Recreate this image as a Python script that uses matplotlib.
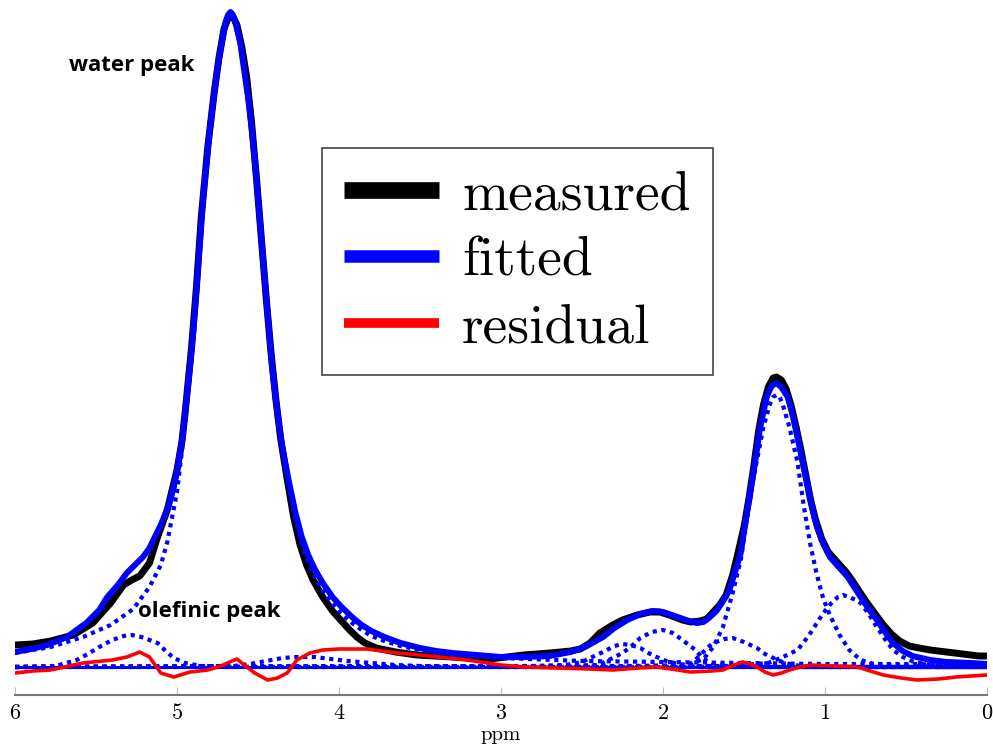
import matplotlib
matplotlib.use("Agg")
import matplotlib.pyplot as plt
from matplotlib.lines import Line2D

# chemical shift (ppm) / intensity (a.u.)
meas_ppm = [6.00, 5.89, 5.78, 5.64, 5.52, 5.41, 5.33, 5.28, 5.23, 5.17, 5.12, 5.06, 5.00, 4.97,
            4.95, 4.91, 4.88, 4.85, 4.81, 4.77, 4.74, 4.71, 4.68, 4.665, 4.65, 4.63, 4.60, 4.57,
            4.54, 4.51, 4.48, 4.45, 4.42, 4.39, 4.36, 4.32, 4.28, 4.24, 4.20, 4.16, 4.10, 4.04,
            3.99, 3.94, 3.89, 3.84, 3.77, 3.65, 3.52, 3.30, 3.07, 2.86, 2.70, 2.57, 2.51, 2.45,
            2.39, 2.31, 2.25, 2.16, 2.08, 2.02, 1.96, 1.88, 1.83, 1.77, 1.73, 1.69, 1.65, 1.61,
            1.57, 1.54, 1.50, 1.47, 1.44, 1.41, 1.38, 1.35, 1.32, 1.30, 1.27, 1.24, 1.21, 1.18,
            1.15, 1.12, 1.09, 1.06, 1.02, 0.98, 0.92, 0.87, 0.83, 0.79, 0.74, 0.69, 0.64, 0.59,
            0.54, 0.48, 0.42, 0.35, 0.25, 0.15, 0.05, 0.00]
meas_val = [22, 23, 26, 32, 44, 64, 82, 87, 91, 104, 130, 157, 197, 225,
            254, 320, 380, 450, 520, 575, 610, 638, 651, 653, 649, 642, 620, 590,
            545, 490, 430, 370, 315, 268, 228, 188, 150, 122, 102, 87, 70, 56,
            47, 38, 30, 24, 19, 15, 12, 10, 8, 12, 14, 16, 18, 24,
            34, 42, 47, 52, 55, 55, 52, 47, 45, 46, 48, 55, 62, 72,
            92, 112, 140, 168, 200, 236, 262, 280, 289, 290, 287, 278, 262, 241,
            218, 193, 168, 148, 128, 115, 104, 95, 86, 76, 64, 53, 42, 33,
            26, 21, 19, 17, 15, 13, 11, 11]

fit_ppm = [6.00, 5.90, 5.80, 5.68, 5.56, 5.48, 5.43, 5.36, 5.31, 5.26, 5.21, 5.17, 5.14, 5.10,
           5.06, 5.02, 5.00, 4.97, 4.95, 4.92, 4.90, 4.87, 4.84, 4.80, 4.77, 4.75, 4.72, 4.70,
           4.685, 4.67, 4.655, 4.64, 4.61, 4.59, 4.56, 4.53, 4.50, 4.47, 4.44, 4.41, 4.38, 4.35,
           4.31, 4.27, 4.23, 4.19, 4.15, 4.10, 4.04, 3.99, 3.92, 3.86, 3.80, 3.72, 3.62, 3.50,
           3.40, 3.30, 3.15, 3.00, 2.86, 2.70, 2.57, 2.47, 2.37, 2.30, 2.22, 2.14, 2.06, 2.00,
           1.91, 1.84, 1.79, 1.75, 1.71, 1.67, 1.63, 1.59, 1.55, 1.52, 1.48, 1.44, 1.40, 1.36,
           1.33, 1.30, 1.27, 1.23, 1.20, 1.17, 1.14, 1.11, 1.08, 1.05, 1.01, 0.97, 0.91, 0.86,
           0.82, 0.78, 0.73, 0.68, 0.63, 0.58, 0.52, 0.46, 0.35, 0.25, 0.10, 0.00]
fit_val = [15, 18, 22, 30, 44, 57, 70, 83, 94, 102, 110, 119, 129, 142,
           158, 180, 197, 225, 254, 300, 334, 400, 467, 534, 575, 600, 628, 645,
           652, 655, 652, 645, 625, 602, 568, 525, 470, 410, 352, 295, 254, 220,
           186, 155, 130, 112, 98, 84, 70, 61, 50, 42, 36, 30, 24, 19,
           16, 14, 12, 10, 10, 11, 15, 21, 30, 39, 47, 53, 56, 55,
           50, 46, 44, 45, 50, 56, 66, 77, 98, 114, 157, 197, 240, 270,
           281, 284, 280, 270, 252, 230, 207, 184, 160, 140, 123, 110, 99, 90,
           80, 70, 58, 47, 35, 24, 16, 11, 7, 5, 4, 3]

res_ppm = [6.00, 5.89, 5.78, 5.58, 5.40, 5.31, 5.23, 5.17, 5.10, 5.02, 4.92, 4.81, 4.73, 4.66,
           4.63, 4.57, 4.52, 4.44, 4.38, 4.32, 4.26, 4.18, 4.10, 4.00, 3.83, 3.64, 3.50, 3.33,
           3.21, 3.00, 2.86, 2.65, 2.45, 2.31, 2.15, 2.04, 1.95, 1.83, 1.70, 1.63, 1.56, 1.51,
           1.46, 1.42, 1.37, 1.32, 1.27, 1.22, 1.15, 1.09, 0.95, 0.80, 0.72, 0.64, 0.53, 0.43,
           0.30, 0.19, 0.10, 0.00]
res_val = [-6, -4, -3, 4, 7, 10, 15, 10, -6, -10, -5, -3, 1, 6,
           8, 0, -6, -13, -11, -6, 7, 14, 17, 18, 18, 14, 12, 9,
           7, 2, 0, -1, -2, -3, -1, 0, -2, -5, -4, -3, 2, 5,
           3, 0, -5, -8, -6, -3, 0, 2, 1, 0, -4, -8, -11, -13,
           -12, -10, -9, -8]

# fitted components
water_ppm = [6.00, 5.78, 5.58, 5.41, 5.27, 5.17, 5.10, 5.06, 5.03, 5.00, 4.97, 4.95, 4.92, 4.90,
             4.87, 4.84, 4.80, 4.77, 4.75, 4.72, 4.70, 4.685, 4.67, 4.655, 4.64, 4.61, 4.59, 4.56,
             4.53, 4.50, 4.47, 4.44, 4.41, 4.38, 4.35, 4.31, 4.27, 4.23, 4.19, 4.15, 4.10, 4.04,
             3.99, 3.92, 3.86, 3.80, 3.72, 3.62, 3.50, 3.40, 3.30, 3.00, 2.50, 2.00, 1.50, 1.00,
             0.50, 0.00]
water_val = [14, 20, 30, 42, 58, 80, 102, 125, 150, 175, 215, 248, 295, 330,
             395, 462, 530, 572, 597, 625, 642, 649, 652, 649, 642, 622, 599, 565,
             521, 466, 405, 347, 290, 249, 214, 180, 148, 122, 104, 90, 76, 63,
             54, 44, 37, 31, 26, 21, 17, 14, 12, 9, 6, 5, 4, 3,
             3, 2]

olef_ppm = [6.00, 5.75, 5.62, 5.55, 5.48, 5.40, 5.33, 5.28, 5.22, 5.17, 5.12, 5.07, 5.02, 4.95,
            4.85, 4.50, 3.00, 0.00]
olef_val = [0, 1, 7, 13, 20, 27, 31, 32, 30, 27, 24, 16, 9, 4,
            1, 0, 0, 0]

glyc_ppm = [6.00, 4.65, 4.55, 4.45, 4.35, 4.26, 4.15, 4.05, 3.95, 3.80, 3.65, 3.50, 3.00, 0.00]
glyc_val = [0, 1, 3, 6, 9, 10, 10, 8, 6, 4, 2, 1, 0, 0]

c22_ppm = [6.00, 2.80, 2.60, 2.50, 2.45, 2.37, 2.30, 2.25, 2.20, 2.14, 2.09, 2.04, 1.98, 1.90,
           1.80, 1.50, 0.00]
c22_val = [0, 1, 2, 5, 9, 15, 21, 23, 22, 19, 14, 10, 6, 3,
           1, 0, 0]

c20_ppm = [6.00, 2.70, 2.40, 2.31, 2.25, 2.20, 2.14, 2.07, 2.00, 1.94, 1.88, 1.80, 1.75, 1.70,
           1.60, 1.30, 0.00]
c20_val = [0, 1, 2, 9, 14, 20, 29, 35, 37, 34, 27, 17, 8, 4,
           1, 0, 0]

c16_ppm = [6.00, 2.20, 1.90, 1.82, 1.77, 1.72, 1.69, 1.62, 1.57, 1.50, 1.42, 1.37, 1.32, 1.25,
           1.15, 0.80, 0.00]
c16_val = [0, 0, 1, 4, 12, 20, 24, 28, 29, 25, 19, 13, 9, 4,
           1, 0, 0]

c13_ppm = [6.00, 2.20, 1.85, 1.75, 1.69, 1.63, 1.57, 1.52, 1.48, 1.44, 1.38, 1.34, 1.32, 1.30,
           1.28, 1.26, 1.22, 1.17, 1.13, 1.09, 1.05, 1.01, 0.97, 0.91, 0.85, 0.78, 0.70, 0.30,
           0.00]
c13_val = [0, 1, 2, 8, 20, 40, 74, 107, 150, 190, 240, 263, 270, 272,
           270, 262, 240, 205, 160, 122, 92, 68, 52, 32, 17, 7, 3, 0,
           0]

c09_ppm = [6.00, 1.60, 1.35, 1.26, 1.17, 1.13, 1.09, 1.05, 1.01, 0.96, 0.92, 0.89, 0.85, 0.81,
           0.78, 0.73, 0.68, 0.63, 0.58, 0.52, 0.45, 0.35, 0.20, 0.00]
c09_val = [0, 1, 4, 10, 17, 25, 34, 44, 54, 64, 70, 72, 70, 67,
           64, 53, 40, 28, 17, 10, 5, 2, 1, 0]

base_ppm = [6.0, 0.0]
base_val = [0, 0]

xticks = [6, 5, 4, 3, 2, 1, 0]

fig = plt.figure(figsize=(9.93, 7.51), dpi=100)
ax = fig.add_axes([15 / 993, 56 / 751, 972 / 993, 695 / 751])

ax.plot(meas_ppm, meas_val, color="black", lw=5, solid_joinstyle="round", zorder=2)
ax.plot(fit_ppm, fit_val, color="blue", lw=4.3, solid_joinstyle="round", zorder=3)

components = [(water_ppm, water_val), (olef_ppm, olef_val), (glyc_ppm, glyc_val),
              (c22_ppm, c22_val), (c20_ppm, c20_val), (c16_ppm, c16_val),
              (c13_ppm, c13_val), (c09_ppm, c09_val)]
for px, pv in components:
    ax.plot(px, pv, color="blue", lw=3, linestyle=(0, (1, 1.1)), zorder=4)

ax.plot(base_ppm, base_val, color="blue", lw=2.2, zorder=4)
ax.plot(res_ppm, res_val, color="red", lw=2.6, solid_joinstyle="round", zorder=5)

ax.set_xlim(6, 0)
ax.set_ylim(-28, 667)
ax.set_xticks(xticks)
ax.set_xticklabels([str(t) for t in xticks], family="cmr10", fontsize=16)
ax.set_yticks([])
for s in ["left", "right", "top"]:
    ax.spines[s].set_visible(False)
ax.spines["bottom"].set_color("#777777")
ax.spines["bottom"].set_linewidth(1.5)
ax.tick_params(axis="x", direction="in", length=6, width=0.8, color="#bbbbbb", pad=6)
ax.set_xlabel("ppm", family="cmr10", fontsize=15, labelpad=2)

ax.text(5.667, 601, "water peak", fontsize=16, fontweight="bold", family="Open Sans",
        ha="left", va="center")
ax.text(5.24, 55, "olefinic peak", fontsize=16, fontweight="bold", family="Open Sans",
        ha="left", va="center")

handles = [Line2D([], [], color="black", lw=12, solid_capstyle="butt"),
           Line2D([], [], color="blue", lw=9, solid_capstyle="butt"),
           Line2D([], [], color="red", lw=7, solid_capstyle="butt")]
leg = ax.legend(handles, ["measured", "fitted", "residual"],
                loc="upper left", bbox_to_anchor=(322 / 993, 1 - 148 / 751),
                bbox_transform=fig.transFigure, prop={"family": "cmr10", "size": 40},
                handlelength=1.7, handletextpad=0.42, labelspacing=0.3,
                borderpad=0.4, borderaxespad=0, fancybox=False, framealpha=1)
leg.get_frame().set_edgecolor("#444444")
leg.get_frame().set_linewidth(1.2)

fig.savefig("out.png", dpi=100)
